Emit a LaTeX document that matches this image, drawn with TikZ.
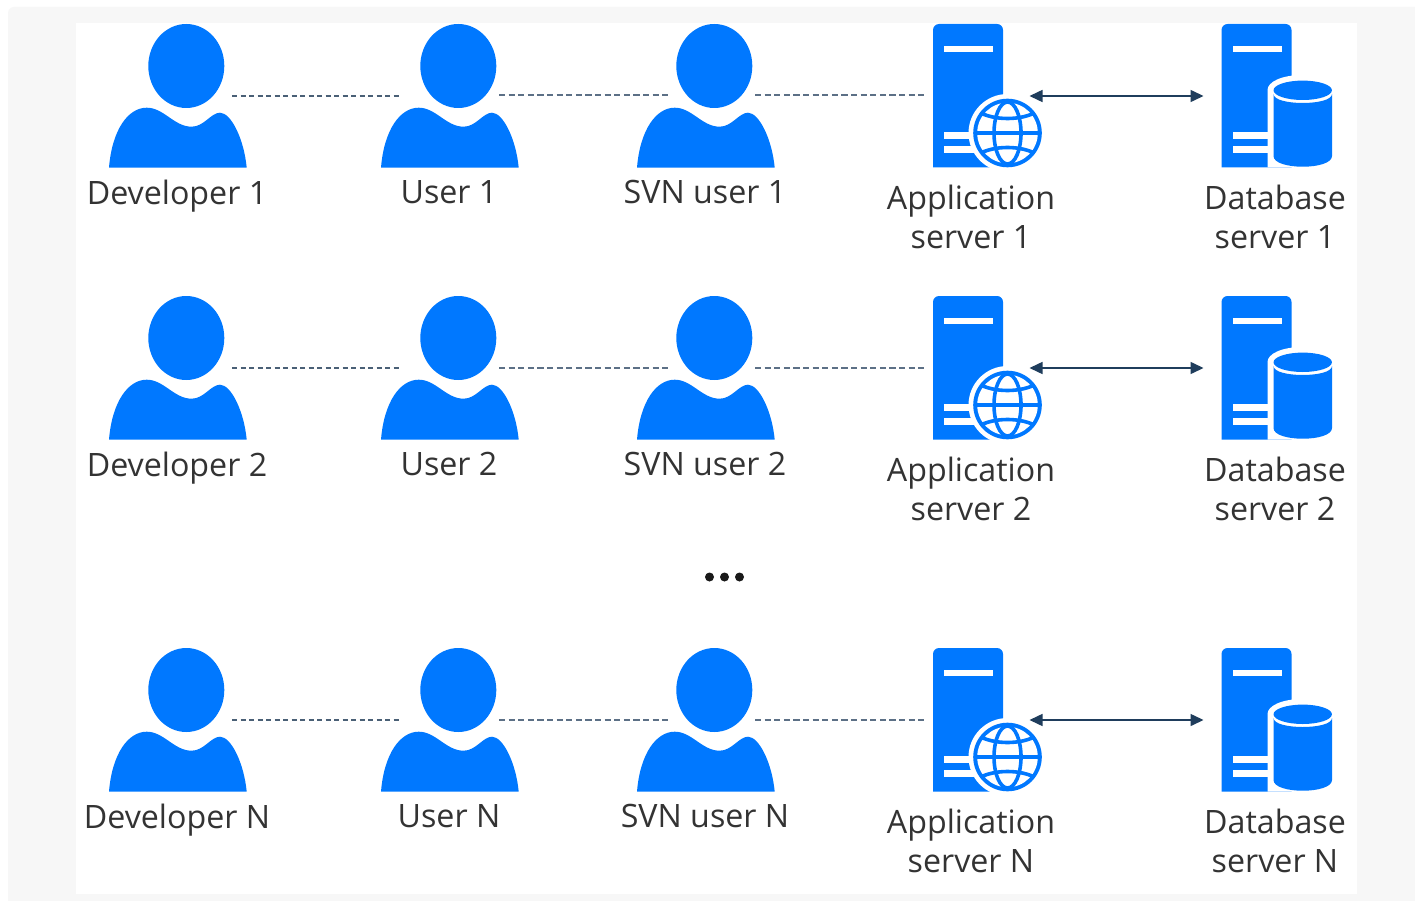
\documentclass[tikz,border=0pt]{standalone}
\usepackage{fontspec}
\setmainfont{Open Sans}
\usetikzlibrary{arrows.meta}
\definecolor{iconblue}{HTML}{0078FF}
\definecolor{panelgray}{HTML}{F7F7F7}
\definecolor{linknavy}{HTML}{1F3D5C}
\definecolor{dashnavy}{HTML}{4A6076}
\definecolor{dashsoft}{HTML}{5C7086}
\definecolor{labelgray}{HTML}{333333}
\tikzset{
  x=1pt,y=-1pt,
  iconfill/.style={fill=iconblue,draw=none},
  gap/.style={fill=white,draw=none},
  lbl/.style={text=labelgray,font=\fontsize{32.2}{38.5}\selectfont,align=center,anchor=north,inner sep=0pt},
  dashlink/.style={draw=dashnavy,line width=1.2pt,dash pattern=on 5.2pt off 3.3pt},
  dashsoftlink/.style={draw=dashsoft,line width=2pt,dash pattern=on 6.2pt off 3.4pt},
  duplex/.style={draw=linknavy,line width=1.5pt,{Triangle[length=13pt,width=12pt]}-{Triangle[length=13pt,width=12pt]}},
  person/.pic={
    \fill[iconfill] (77.3,42) ellipse [x radius=38,y radius=42];
    \fill[iconfill] (0,143.7) .. controls (3,106) and (19,83.7) .. (37.7,83.7)
      .. controls (55,83.7) and (65,102.7) .. (82.7,102.7)
      .. controls (95,102.7) and (102,88.7) .. (111,88.7)
      .. controls (122,88.7) and (135,115) .. (137.7,143.7) -- cycle;
  },
  tower/.pic={
    \fill[iconfill,rounded corners=6pt] (0,143.5) [sharp corners] -- (0,143.5) [rounded corners=6pt] -- (0,0) -- (70,0) [sharp corners] -- (70,143.5) -- cycle;
    \fill[gap] (11,21.7) rectangle (60,28);
    \fill[gap] (11,108.4) rectangle (60,115);
    \fill[gap] (11,121.7) rectangle (60,129.4);
  },
  appserver/.pic={
    \pic {tower};
    \fill[gap] (74.5,109) circle [radius=39];
    \fill[iconfill] (74.5,109) circle [radius=34.3];
    \fill[gap] (74.5,109) circle [radius=30.3];
    \begin{scope}
      \clip (74.5,109) circle [radius=31];
      \draw[draw=iconblue,line width=3.6pt] (74.5,109) ellipse [x radius=13.5,y radius=31];
      \draw[draw=iconblue,line width=3.6pt] (40,109) -- (110,109);
      \draw[draw=iconblue,line width=3.6pt] (44,87) .. controls (60,97) and (89,97) .. (105,87);
      \draw[draw=iconblue,line width=3.6pt] (44,131) .. controls (60,121) and (89,121) .. (105,131);
    \end{scope}
  },
  dbserver/.pic={
    \pic {tower};
    \fill[gap] (46,143.5) -- (46,66) .. controls (46,58) and (60,51) .. (81,51) -- (81,143.5) -- cycle;
    \fill[iconfill] (52,70) -- (52,132) .. controls (52,146.3) and (110.5,146.3) .. (110.5,132) -- (110.5,70) .. controls (110.5,82) and (52,82) .. (52,70) -- cycle;
    \fill[iconfill] (81.2,66.3) ellipse [x radius=29.2,y radius=9.7];
  }
}
\newcommand{\chain}[5]{%
  \pic (dev#1) at (109,#2) {person};
  \pic (usr#1) at (381,#2) {person};
  \pic (svn#1) at (637,#2) {person};
  \pic (app#1) at (933,#2) {appserver};
  \pic (db#1) at (1221.5,#2) {dbserver};
  \coordinate (dev#1-out) at (232,#2+72);
  \coordinate (usr#1-in) at (400,#2+72);
  \coordinate (usr#1-out) at (499,#2+71.5);
  \coordinate (svn#1-in) at (668,#2+71.5);
  \coordinate (svn#1-out) at (755,#2+71.5);
  \coordinate (app#1-in) at (925,#2+71.5);
  \coordinate (app#1-out) at (1029.5,#2+72);
  \coordinate (db#1-in) at (1203.5,#2+72);
  \draw[dashlink] (dev#1-out) -- (usr#1-in);
  \draw[dashsoftlink] (usr#1-out) -- (svn#1-in);
  \draw[dashsoftlink] (svn#1-out) -- (app#1-in);
  \draw[duplex] (app#1-out) -- (db#1-in);
  \node[lbl] (devlabel#1) at (177,#2+156) {#3};
  \node[lbl] (usrlabel#1) at (449,#2+156) {#4};
  \node[lbl] (svnlabel#1) at (705,#2+156) {#5};
  \node[lbl] (applabel#1) at (971,#2+161) {Application\\server #1};
  \node[lbl] (dblabel#1) at (1275,#2+161) {Database\\server #1};
}
\begin{document}
\begin{tikzpicture}
\useasboundingbox (0,0) rectangle (1415,901);
\fill[white] (0,0) rectangle (1415,901);
\fill[panelgray,rounded corners=6pt] (8,7) rectangle (1425,911);
\fill[white] (76,23) rectangle (1357,894);
\chain{1}{24}{Developer 1}{User 1}{SVN user 1}
\chain{2}{296}{Developer 2}{User 2}{SVN user 2}
\chain{N}{648}{Developer N}{User N}{SVN user N}
\fill[black!90] (709.5,577) circle [radius=4.5] (724.5,577) circle [radius=4.5] (739.5,577) circle [radius=4.5];
\end{tikzpicture}
\end{document}
